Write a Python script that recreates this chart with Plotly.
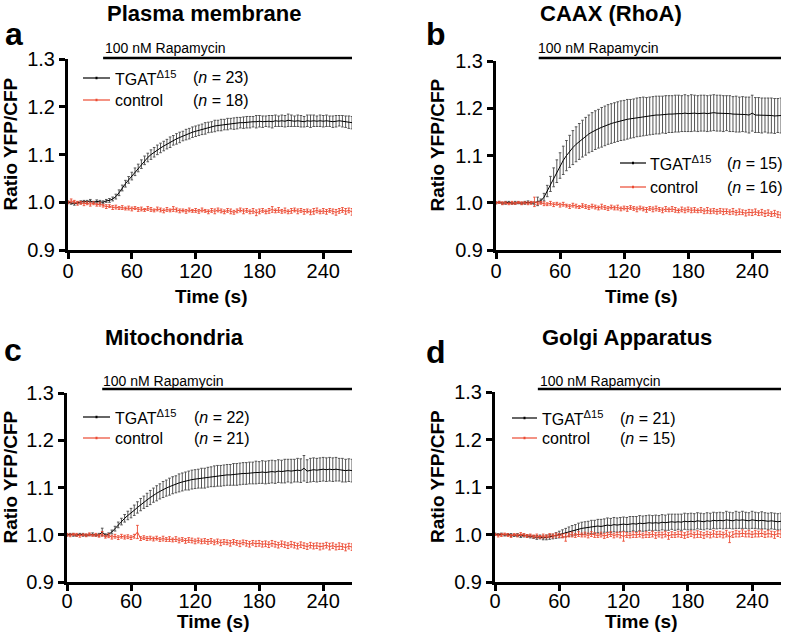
import plotly.graph_objects as go

W, H = 787, 638

# ---------------- data ----------------
time_s = list(range(0, 268, 3))  # 0 .. 267 s

titles = ["Plasma membrane", "CAAX (RhoA)", "Mitochondria", "Golgi Apparatus"]
letters = ["a", "b", "c", "d"]
n_tgat = [23, 15, 22, 21]
n_ctrl = [18, 16, 21, 15]
rapamycin_start = [33, 40, 33, 40]
x_ticks = [0, 60, 120, 180, 240]
y_ticks = [0.9, 1.0, 1.1, 1.2, 1.3]
y_ticktext = ["0.9", "1.0", "1.1", "1.2", "1.3"]

a_tgat = [1.000, 0.998, 0.997, 0.999, 1.000, 1.002, 1.001, 1.003, 1.000, 1.002,
          1.001, 1.000, 1.003, 1.004, 1.007, 1.012, 1.020, 1.030, 1.039, 1.047,
          1.055, 1.064, 1.072, 1.080, 1.088, 1.094, 1.100, 1.105, 1.110, 1.114,
          1.118, 1.122, 1.126, 1.130, 1.133, 1.136, 1.139, 1.142, 1.144, 1.147,
          1.149, 1.151, 1.153, 1.155, 1.157, 1.158, 1.160, 1.161, 1.162, 1.163,
          1.164, 1.165, 1.165, 1.166, 1.167, 1.167, 1.168, 1.168, 1.169, 1.169,
          1.170, 1.169, 1.170, 1.170, 1.169, 1.171, 1.170, 1.171, 1.170, 1.172,
          1.171, 1.170, 1.171, 1.170, 1.169, 1.171, 1.170, 1.171, 1.170, 1.171,
          1.170, 1.171, 1.170, 1.169, 1.170, 1.171, 1.170, 1.169, 1.168, 1.167]
a_tgat_err = [.002, .002, .003, .002, .003, .002, .003, .003, .002, .003,
              .003, .003, .003, .004, .004, .005, .006, .006, .007, .007,
              .008, .008, .008, .009, .009, .009, .010, .010, .010, .010,
              .010, .010, .011, .010, .011, .011, .010, .011, .011, .011,
              .011, .011, .011, .012, .011, .011, .012, .011, .012, .011,
              .012, .011, .012, .012, .011, .012, .012, .012, .011, .013,
              .012, .012, .011, .012, .013, .012, .011, .012, .012, .013,
              .012, .011, .012, .012, .011, .012, .013, .012, .011, .012,
              .012, .012, .011, .012, .012, .011, .012, .012, .013, .013]
a_ctrl = [1.000, 1.003, 1.001, 0.998, 0.999, 0.997, 0.998, 0.996, 0.998, 0.995,
          0.996, 0.993, 0.991, 0.992, 0.989, 0.990, 0.988, 0.989, 0.987, 0.988,
          0.986, 0.988, 0.985, 0.986, 0.984, 0.987, 0.985, 0.983, 0.986, 0.984,
          0.982, 0.985, 0.983, 0.986, 0.984, 0.982, 0.983, 0.981, 0.984, 0.982,
          0.983, 0.981, 0.984, 0.982, 0.980, 0.983, 0.981, 0.984, 0.982, 0.980,
          0.983, 0.981, 0.979, 0.982, 0.984, 0.981, 0.983, 0.980, 0.982, 0.978,
          0.981, 0.983, 0.980, 0.982, 0.985, 0.982, 0.984, 0.981, 0.983, 0.980,
          0.982, 0.984, 0.981, 0.983, 0.980, 0.982, 0.979, 0.981, 0.983, 0.980,
          0.982, 0.980, 0.983, 0.981, 0.979, 0.982, 0.984, 0.981, 0.983, 0.980]
a_ctrl_err = [.003, .004, .003, .004, .003, .004, .003, .004, .003, .003,
              .004, .003, .004, .003, .004, .004, .003, .004, .003, .004,
              .004, .003, .004, .004, .003, .004, .004, .003, .004, .004,
              .004, .004, .003, .005, .004, .004, .003, .004, .004, .003,
              .004, .004, .004, .003, .004, .004, .005, .004, .004, .004,
              .004, .005, .004, .004, .004, .005, .004, .004, .005, .006,
              .005, .004, .004, .005, .006, .004, .005, .004, .005, .004,
              .005, .004, .005, .004, .005, .004, .005, .006, .005, .004,
              .005, .005, .004, .005, .006, .005, .005, .006, .005, .007]

b_tgat = [1.000, 1.001, 0.999, 1.000, 1.001, 0.999, 1.000, 1.000, 0.999, 1.000,
          1.001, 1.000, 0.999, 1.003, 1.004, 1.012, 1.025, 1.040, 1.054, 1.067,
          1.079, 1.090, 1.100, 1.109, 1.117, 1.124, 1.130, 1.136, 1.141, 1.146,
          1.150, 1.154, 1.157, 1.160, 1.163, 1.166, 1.168, 1.170, 1.172, 1.174,
          1.175, 1.177, 1.178, 1.179, 1.181, 1.182, 1.183, 1.183, 1.184, 1.185,
          1.186, 1.186, 1.187, 1.187, 1.188, 1.188, 1.189, 1.189, 1.189, 1.190,
          1.189, 1.190, 1.190, 1.189, 1.190, 1.190, 1.189, 1.190, 1.191, 1.190,
          1.190, 1.189, 1.190, 1.189, 1.188, 1.188, 1.187, 1.188, 1.187, 1.186,
          1.190, 1.186, 1.186, 1.185, 1.186, 1.185, 1.185, 1.184, 1.185, 1.185]
b_tgat_err = [.002, .002, .002, .003, .002, .002, .003, .002, .002, .003,
              .003, .002, .003, .009, .004, .008, .012, .016, .020, .024,
              .027, .030, .032, .034, .036, .037, .038, .039, .040, .040,
              .041, .041, .041, .042, .042, .042, .042, .042, .042, .042,
              .042, .042, .041, .041, .041, .041, .041, .040, .040, .040,
              .040, .040, .039, .040, .039, .039, .039, .039, .038, .039,
              .038, .039, .038, .038, .038, .038, .038, .038, .038, .038,
              .038, .038, .037, .038, .037, .038, .037, .037, .037, .038,
              .038, .037, .037, .037, .036, .037, .037, .037, .036, .037]
b_ctrl = [1.000, 1.001, 0.999, 1.000, 0.998, 1.000, 0.999, 1.001, 0.999, 1.000,
          0.999, 1.000, 1.002, 0.999, 1.000, 0.998, 0.997, 0.999, 0.996, 0.998,
          0.995, 0.997, 0.994, 0.992, 0.995, 0.993, 0.991, 0.994, 0.992, 0.990,
          0.993, 0.991, 0.989, 0.992, 0.990, 0.988, 0.991, 0.989, 0.990, 0.987,
          0.989, 0.987, 0.990, 0.988, 0.986, 0.989, 0.987, 0.985, 0.988, 0.986,
          0.988, 0.986, 0.984, 0.987, 0.985, 0.987, 0.985, 0.983, 0.986, 0.984,
          0.986, 0.984, 0.985, 0.983, 0.985, 0.982, 0.984, 0.982, 0.983, 0.981,
          0.983, 0.981, 0.982, 0.980, 0.982, 0.979, 0.981, 0.980, 0.978, 0.980,
          0.979, 0.981, 0.978, 0.980, 0.977, 0.979, 0.976, 0.978, 0.975, 0.974]
b_ctrl_err = [.002, .002, .003, .002, .002, .003, .002, .002, .003, .002,
              .003, .003, .010, .003, .003, .004, .003, .004, .004, .003,
              .004, .004, .003, .004, .004, .004, .003, .004, .004, .004,
              .004, .004, .004, .005, .004, .004, .004, .004, .005, .004,
              .004, .005, .004, .004, .005, .004, .004, .005, .004, .005,
              .005, .004, .005, .005, .004, .005, .005, .004, .005, .005,
              .005, .005, .005, .004, .005, .005, .006, .005, .005, .005,
              .005, .006, .005, .005, .006, .005, .006, .005, .006, .006,
              .006, .006, .005, .006, .006, .006, .005, .006, .006, .006]

c_tgat = [1.000, 1.001, 1.000, 0.999, 1.001, 1.000, 0.999, 1.000, 1.001, 0.999,
          1.000, 1.006, 0.999, 1.001, 1.006, 1.013, 1.021, 1.028, 1.035, 1.041,
          1.046, 1.052, 1.058, 1.064, 1.069, 1.074, 1.079, 1.084, 1.088, 1.092,
          1.096, 1.099, 1.102, 1.105, 1.107, 1.110, 1.112, 1.114, 1.115, 1.117,
          1.118, 1.119, 1.120, 1.120, 1.122, 1.123, 1.124, 1.125, 1.125, 1.126,
          1.127, 1.127, 1.128, 1.128, 1.129, 1.130, 1.130, 1.131, 1.131, 1.132,
          1.132, 1.133, 1.132, 1.133, 1.134, 1.133, 1.135, 1.134, 1.135, 1.136,
          1.135, 1.136, 1.137, 1.136, 1.141, 1.135, 1.137, 1.138, 1.137, 1.138,
          1.139, 1.138, 1.139, 1.138, 1.139, 1.138, 1.137, 1.136, 1.137, 1.136]
c_tgat_err = [.002, .002, .003, .002, .002, .003, .002, .002, .003, .002,
              .003, .008, .003, .003, .004, .005, .006, .007, .008, .009,
              .010, .011, .012, .013, .013, .014, .015, .015, .016, .016,
              .017, .017, .018, .018, .018, .019, .019, .019, .020, .020,
              .020, .020, .021, .021, .021, .021, .022, .022, .022, .022,
              .022, .022, .023, .023, .023, .023, .023, .023, .023, .024,
              .023, .024, .024, .024, .024, .024, .024, .024, .025, .024,
              .025, .024, .025, .025, .027, .024, .025, .025, .025, .025,
              .025, .025, .025, .025, .025, .024, .025, .024, .024, .024]
c_ctrl = [1.000, 0.999, 1.001, 1.000, 0.998, 1.000, 0.999, 1.001, 0.999, 1.000,
          0.998, 1.002, 0.996, 0.998, 0.995, 0.997, 0.994, 0.997, 0.995, 0.996,
          0.994, 0.997, 1.006, 0.992, 0.994, 0.992, 0.993, 0.991, 0.993, 0.990,
          0.992, 0.990, 0.991, 0.989, 0.991, 0.988, 0.990, 0.987, 0.989, 0.988,
          0.986, 0.988, 0.986, 0.987, 0.985, 0.987, 0.984, 0.986, 0.983, 0.985,
          0.984, 0.982, 0.985, 0.983, 0.981, 0.984, 0.982, 0.980, 0.983, 0.981,
          0.982, 0.980, 0.981, 0.979, 0.982, 0.980, 0.978, 0.981, 0.979, 0.977,
          0.980, 0.978, 0.976, 0.979, 0.977, 0.975, 0.978, 0.976, 0.977, 0.975,
          0.976, 0.978, 0.975, 0.977, 0.974, 0.976, 0.975, 0.973, 0.976, 0.974]
c_ctrl_err = [.003, .003, .002, .003, .003, .002, .003, .003, .002, .003,
              .003, .005, .003, .004, .004, .004, .004, .004, .004, .004,
              .004, .004, .014, .004, .004, .004, .004, .004, .004, .004,
              .005, .004, .005, .004, .005, .005, .004, .005, .005, .005,
              .005, .005, .005, .005, .005, .005, .005, .005, .006, .005,
              .005, .006, .005, .005, .006, .005, .006, .006, .005, .006,
              .006, .006, .006, .006, .006, .006, .006, .006, .006, .006,
              .006, .006, .006, .006, .006, .006, .006, .006, .006, .007,
              .006, .006, .007, .006, .006, .007, .006, .007, .006, .007]

d_tgat = [1.001, 1.000, 1.001, 0.999, 1.000, 0.999, 0.998, 0.999, 0.997, 0.998,
          0.997, 0.996, 0.995, 0.994, 0.995, 0.993, 0.994, 0.995, 0.996, 0.998,
          1.000, 1.002, 1.004, 1.006, 1.008, 1.010, 1.012, 1.013, 1.014, 1.015,
          1.016, 1.016, 1.018, 1.017, 1.019, 1.020, 1.019, 1.021, 1.020, 1.021,
          1.022, 1.021, 1.022, 1.023, 1.022, 1.024, 1.023, 1.024, 1.025, 1.024,
          1.025, 1.024, 1.026, 1.025, 1.026, 1.027, 1.026, 1.027, 1.026, 1.028,
          1.027, 1.028, 1.027, 1.029, 1.028, 1.027, 1.029, 1.028, 1.030, 1.029,
          1.030, 1.029, 1.031, 1.030, 1.029, 1.031, 1.030, 1.031, 1.030, 1.029,
          1.031, 1.030, 1.029, 1.030, 1.029, 1.028, 1.029, 1.028, 1.027, 1.028]
d_tgat_err = [.002, .002, .002, .002, .002, .003, .002, .003, .003, .003,
              .003, .003, .003, .004, .004, .004, .005, .005, .005, .006,
              .007, .008, .009, .010, .011, .011, .012, .013, .013, .013,
              .014, .014, .014, .015, .014, .015, .015, .015, .015, .015,
              .015, .015, .016, .015, .016, .016, .016, .016, .016, .016,
              .016, .016, .016, .016, .017, .016, .017, .016, .017, .017,
              .017, .017, .017, .017, .017, .017, .017, .017, .017, .017,
              .017, .017, .018, .017, .017, .018, .017, .018, .017, .017,
              .018, .017, .017, .018, .017, .017, .017, .017, .017, .017]
d_ctrl = [1.000, 0.998, 0.999, 1.001, 0.999, 0.997, 1.000, 0.998, 1.001, 0.999,
          0.997, 0.998, 0.996, 0.997, 0.995, 0.997, 0.996, 0.998, 0.997, 0.999,
          0.998, 0.997, 0.994, 0.999, 1.000, 0.998, 1.001, 0.999, 1.000, 0.998,
          1.001, 0.999, 0.998, 1.000, 0.997, 0.999, 1.001, 0.998, 1.000, 0.999,
          0.996, 0.999, 0.998, 1.000, 0.999, 1.001, 0.998, 1.000, 0.999, 1.001,
          0.998, 1.000, 0.999, 1.001, 0.997, 1.000, 0.999, 1.001, 1.000, 0.998,
          1.000, 1.002, 0.999, 1.001, 1.000, 0.998, 1.001, 0.999, 1.002, 1.000,
          1.001, 0.999, 1.002, 0.994, 1.000, 1.002, 1.001, 1.003, 1.001, 1.002,
          1.000, 1.002, 1.001, 1.003, 1.000, 1.002, 1.001, 0.999, 1.002, 1.001]
d_ctrl_err = [.002, .003, .003, .002, .003, .003, .002, .003, .003, .003,
              .003, .003, .003, .004, .003, .004, .003, .004, .004, .004,
              .004, .004, .008, .004, .005, .004, .005, .004, .005, .005,
              .005, .005, .004, .005, .005, .005, .005, .005, .005, .006,
              .010, .005, .005, .006, .005, .006, .005, .006, .005, .006,
              .006, .005, .006, .006, .007, .006, .005, .006, .006, .006,
              .006, .006, .006, .007, .006, .006, .006, .006, .007, .006,
              .006, .006, .007, .011, .006, .007, .006, .007, .006, .007,
              .006, .007, .006, .007, .006, .007, .006, .007, .006, .007]

tgat_series = [a_tgat, b_tgat, c_tgat, d_tgat]
tgat_errors = [a_tgat_err, b_tgat_err, c_tgat_err, d_tgat_err]
ctrl_series = [a_ctrl, b_ctrl, c_ctrl, d_ctrl]
ctrl_errors = [a_ctrl_err, b_ctrl_err, c_ctrl_err, d_ctrl_err]

# ---------------- layout (pixel geometry) ----------------
FONT = "Liberation Sans, Arial, Helvetica, sans-serif"
RED = "#EC4A32"
BLACK = "#000000"


def fx(p):
    return p / W


def fy(p):
    return 1 - p / H


geo = [
    dict(x0=68, x1=352, yt=59, yb=250, title_x=105, title_y=13, let_x=14, let_y=34,
         rap_y=58, rap_text_y=48, ytl_x=10, xtl_x=212, xtl_y=296, tstand=-5,
         leg_y=[78, 100], leg_l0=83, leg_l1=110, leg_t=113, leg_n=191),
    dict(x0=496, x1=781, yt=61, yb=250, title_x=538, title_y=13, let_x=436, let_y=34,
         rap_y=58, rap_text_y=48, ytl_x=437, xtl_x=641, xtl_y=296, tstand=-5,
         leg_y=[163, 187], leg_l0=620, leg_l1=646, leg_t=648, leg_n=725),
    dict(x0=67, x1=352, yt=393, yb=582, title_x=103, title_y=337, let_x=13, let_y=350,
         rap_y=389, rap_text_y=381, ytl_x=10, xtl_x=213, xtl_y=621, tstand=-7,
         leg_y=[417, 438], leg_l0=83, leg_l1=110, leg_t=113, leg_n=192),
    dict(x0=495, x1=781, yt=392, yb=582, title_x=540, title_y=337, let_x=436, let_y=352,
         rap_y=389, rap_text_y=381, ytl_x=437, xtl_x=641, xtl_y=621, tstand=-7,
         leg_y=[418, 438], leg_l0=512, leg_l1=537, leg_t=540, leg_n=618),
]

fig = go.Figure()
layout = dict(
    template="none", autosize=False,
    width=W, height=H, margin=dict(l=0, r=0, t=0, b=0, pad=0, autoexpand=False),
    paper_bgcolor="white", plot_bgcolor="white", showlegend=False,
    font=dict(family=FONT, color="black"),
)
shapes = []
annotations = []

for i, g in enumerate(geo):
    sfx = "" if i == 0 else str(i + 1)
    xa, ya = "x" + sfx, "y" + sfx

    fig.add_trace(go.Scatter(
        x=time_s, y=tgat_series[i], mode="lines",
        line=dict(color=BLACK, width=1),
        error_y=dict(type="data", array=tgat_errors[i], color="#555555",
                     thickness=1, width=1.3),
        xaxis=xa, yaxis=ya, hoverinfo="skip"))
    fig.add_trace(go.Scatter(
        x=time_s, y=ctrl_series[i], mode="lines",
        line=dict(color=RED, width=1),
        error_y=dict(type="data", array=ctrl_errors[i], color=RED,
                     thickness=0.9, width=1.3),
        xaxis=xa, yaxis=ya, hoverinfo="skip"))

    axis_common = dict(showline=True, linewidth=3, linecolor="black", ticks="outside",
                       ticklen=6, tickwidth=3, tickcolor="black", showgrid=False,
                       zeroline=False, automargin=False,
                       tickfont=dict(family=FONT, size=20, color="black"))
    layout["xaxis" + sfx] = dict(
        domain=[fx(g["x0"]), fx(g["x1"])], anchor=ya, range=[0, 267],
        tickvals=x_ticks, ticklabelstandoff=g["tstand"], **axis_common)
    layout["yaxis" + sfx] = dict(
        domain=[fy(g["yb"]), fy(g["yt"])], anchor=xa, range=[0.9, 1.3005],
        tickvals=y_ticks, ticktext=y_ticktext, **axis_common)

    shapes.append(dict(type="line", xref=xa, yref="paper",
                       x0=rapamycin_start[i], x1=267, y0=fy(g["rap_y"]), y1=fy(g["rap_y"]),
                       line=dict(color="black", width=2.5)))
    annotations.append(dict(text="100 nM Rapamycin", xref="paper", yref="paper",
                            x=fx(g["title_x"] - 2), y=fy(g["rap_text_y"]),
                            xanchor="left", yanchor="middle", showarrow=False,
                            font=dict(size=14, family=FONT)))
    annotations.append(dict(text="<b>%s</b>" % titles[i], xref="paper", yref="paper",
                            x=fx(g["title_x"]), y=fy(g["title_y"]),
                            xanchor="left", yanchor="middle", showarrow=False,
                            font=dict(size=22, family=FONT)))
    annotations.append(dict(text="<b>%s</b>" % letters[i], xref="paper", yref="paper",
                            x=fx(g["let_x"]), y=fy(g["let_y"]),
                            xanchor="center", yanchor="middle", showarrow=False,
                            font=dict(size=32, family=FONT)))
    annotations.append(dict(text="<b>Ratio YFP/CFP</b>", xref="paper", yref="paper",
                            x=fx(g["ytl_x"]), y=fy((g["yt"] + g["yb"]) / 2 - 10),
                            xanchor="center", yanchor="middle", textangle=-90,
                            showarrow=False, font=dict(size=19, family=FONT)))
    annotations.append(dict(text="<b>Time (s)</b>", xref="paper", yref="paper",
                            x=fx(g["xtl_x"]), y=fy(g["xtl_y"]),
                            xanchor="center", yanchor="middle",
                            showarrow=False, font=dict(size=19, family=FONT)))
    leg_labels = ["TGAT<sup>Δ15</sup>", "control"]
    leg_colors = [BLACK, RED]
    leg_ns = [n_tgat[i], n_ctrl[i]]
    for k in range(2):
        yy = fy(g["leg_y"][k])
        shapes.append(dict(type="line", xref="paper", yref="paper",
                           x0=fx(g["leg_l0"]), x1=fx(g["leg_l1"]), y0=yy, y1=yy,
                           line=dict(color=leg_colors[k], width=1.2)))
        cx = (g["leg_l0"] + g["leg_l1"]) / 2
        shapes.append(dict(type="line", xref="paper", yref="paper",
                           x0=fx(cx - 1), x1=fx(cx + 1), y0=yy, y1=yy,
                           line=dict(color=leg_colors[k], width=2.5)))
        annotations.append(dict(text=leg_labels[k], xref="paper", yref="paper",
                                x=fx(g["leg_t"]), y=yy, xanchor="left", yanchor="middle",
                                showarrow=False, font=dict(size=16, family=FONT)))
        annotations.append(dict(text="(<i>n</i> = %d)" % leg_ns[k], xref="paper",
                                yref="paper", x=fx(g["leg_n"]), y=yy,
                                xanchor="left", yanchor="middle",
                                showarrow=False, font=dict(size=16, family=FONT)))

layout["shapes"] = shapes
layout["annotations"] = annotations
fig.update_layout(**layout)
fig.write_html("out.html",
               config={"displayModeBar": False, "staticPlot": True},
               post_script="document.body.style.margin='0px';"
                           "document.body.style.overflow='hidden';")
